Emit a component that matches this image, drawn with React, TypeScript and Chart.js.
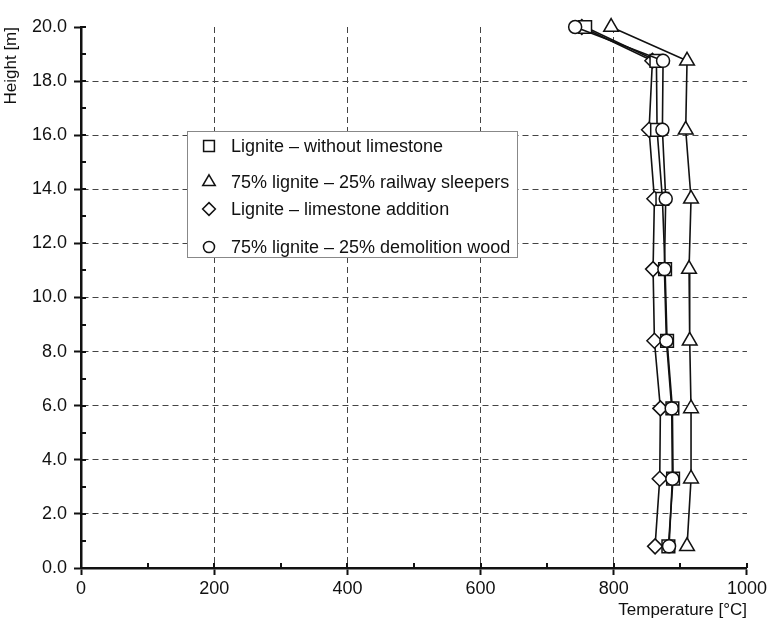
import React, { useEffect, useRef } from 'react';
import { Chart, registerables } from 'chart.js';

Chart.register(...registerables);

// ---- data ----
const heights = [20.0, 18.75, 16.2, 13.65, 11.05, 8.4, 5.9, 3.3, 0.8];
const withoutLimestone = [757, 864, 865, 873, 877, 880, 888, 889, 882];
const railwaySleepers = [796, 910, 908, 916, 913, 914, 916, 916, 910];
const limestoneAddition = [752, 858, 853, 861, 859, 861, 870, 869, 862];
const demolitionWood = [742, 874, 873, 878, 876, 879, 887, 888, 883];

const seriesLabels = [
  'Lignite \u2013 without limestone',
  '75% lignite \u2013 25% railway sleepers',
  'Lignite \u2013 limestone addition',
  '75% lignite \u2013 25% demolition wood',
];

const xMin = 0;
const xMax = 1000;
const xMajorStep = 200;
const xMinorStep = 100;
const yMin = 0;
const yMax = 20;
const yMajorStep = 2;
const yMinorStep = 1;

const FONT = "'Liberation Sans', Arial, Helvetica, sans-serif";

const toPoints = (xs: number[]) => xs.map((x, i) => ({ x, y: heights[i] }));

const styles = [
  { pointStyle: 'rect', radius: 9, order: 1 },
  { pointStyle: 'triangle', radius: 8.5, order: 3 },
  { pointStyle: 'rectRot', radius: 7.5, order: 2 },
  { pointStyle: 'circle', radius: 6.5, order: 0 },
];

const legendRowOffsets = [15, 51, 78, 116];

function drawMarker(ctx: CanvasRenderingContext2D, style: string, r: number, x: number, y: number) {
  ctx.save();
  ctx.fillStyle = '#fff';
  ctx.strokeStyle = '#111';
  ctx.lineWidth = 1.5;
  ctx.beginPath();
  if (style === 'rect') {
    const s = Math.SQRT1_2 * r;
    ctx.rect(x - s, y - s, 2 * s, 2 * s);
  } else if (style === 'triangle') {
    for (let k = 0; k < 3; k++) {
      const a = (k * 2 * Math.PI) / 3;
      const px = x + Math.sin(a) * r;
      const py = y - Math.cos(a) * r;
      if (k === 0) ctx.moveTo(px, py);
      else ctx.lineTo(px, py);
    }
    ctx.closePath();
  } else if (style === 'rectRot') {
    ctx.moveTo(x, y - r);
    ctx.lineTo(x + r, y);
    ctx.lineTo(x, y + r);
    ctx.lineTo(x - r, y);
    ctx.closePath();
  } else {
    ctx.arc(x, y, r, 0, Math.PI * 2);
  }
  ctx.fill();
  ctx.stroke();
  ctx.restore();
}

const innerTicksPlugin = {
  id: 'innerTicks',
  afterDraw(chart: any) {
    const { ctx, chartArea, scales } = chart;
    ctx.save();
    ctx.strokeStyle = '#111';
    ctx.lineWidth = 2;
    for (let v = xMin; v <= xMax; v += xMinorStep) {
      const px = Math.round(scales.x.getPixelForValue(v));
      ctx.beginPath();
      ctx.moveTo(px, chartArea.bottom);
      ctx.lineTo(px, chartArea.bottom - 5);
      ctx.stroke();
    }
    for (let v = yMin; v <= yMax; v += yMinorStep) {
      const py = Math.round(scales.y.getPixelForValue(v));
      ctx.beginPath();
      ctx.moveTo(chartArea.left, py);
      ctx.lineTo(chartArea.left + 5, py);
      ctx.stroke();
    }
    ctx.restore();
  },
};

const boxLegendPlugin = {
  id: 'boxLegend',
  afterDraw(chart: any) {
    const { ctx, chartArea } = chart;
    const left = chartArea.left + 106;
    const top = chartArea.top + 104;
    const w = 330;
    const h = 126;
    ctx.save();
    ctx.fillStyle = '#fff';
    ctx.fillRect(left, top, w, h);
    ctx.strokeStyle = '#888';
    ctx.lineWidth = 1;
    ctx.strokeRect(left + 0.5, top + 0.5, w, h);
    ctx.font = `18px ${FONT}`;
    ctx.textBaseline = 'middle';
    ctx.textAlign = 'left';
    chart.data.datasets.forEach((ds: any, i: number) => {
      const y = top + legendRowOffsets[i];
      const st = styles[i];
      drawMarker(ctx, st.pointStyle, st.radius * 0.85, left + 22, y);
      ctx.fillStyle = '#111';
      ctx.fillText(ds.label, left + 44, y + 1);
    });
    ctx.restore();
  },
};

export default function App() {
  const canvasRef = useRef<HTMLCanvasElement | null>(null);

  useEffect(() => {
    if (!canvasRef.current) return;
    const seriesValues = [withoutLimestone, railwaySleepers, limestoneAddition, demolitionWood];
    const gridColor = (isMajorInner: (v: number) => boolean) => (c: any) =>
      c.tick && isMajorInner(c.tick.value) ? '#444' : 'rgba(0,0,0,0)';
    const chart = new Chart(canvasRef.current, {
      type: 'scatter',
      data: {
        datasets: seriesValues.map((vals, i) => ({
          label: seriesLabels[i],
          data: toPoints(vals),
          showLine: true,
          borderColor: '#111',
          borderWidth: 1.6,
          backgroundColor: '#fff',
          pointStyle: styles[i].pointStyle as any,
          pointRadius: styles[i].radius,
          pointBorderWidth: 1.5,
          pointBorderColor: '#111',
          pointBackgroundColor: '#fff',
          order: styles[i].order,
          clip: false as any,
          tension: 0,
        })),
      },
      options: {
        animation: false,
        responsive: false,
        devicePixelRatio: 1,
        layout: { padding: { top: 27, right: 22, left: 0, bottom: 0 } },
        plugins: {
          legend: { display: false },
          tooltip: { enabled: false },
        },
        scales: {
          x: {
            type: 'linear',
            min: xMin,
            max: xMax,
            afterFit: (s: any) => {
              s.height = 54;
            },
            ticks: {
              stepSize: xMinorStep,
              autoSkip: false,
              maxRotation: 0,
              color: '#111',
              font: { family: FONT, size: 18 },
              padding: 3,
              callback: (v: any) => (Number(v) % xMajorStep === 0 ? String(v) : ''),
            },
            grid: {
              color: gridColor((v) => v % xMajorStep === 0 && v !== xMin && v !== xMax),
              lineWidth: 1,
              tickLength: 7,
              tickWidth: 2,
              tickColor: (c: any) => (c.tick && c.tick.value % xMajorStep === 0 ? '#111' : 'rgba(0,0,0,0)'),
            },
            border: { display: true, color: '#111', width: 2.5, dash: [6, 4] },
            title: {
              display: true,
              text: 'Temperature [\u00b0C]',
              align: 'end',
              color: '#111',
              font: { family: FONT, size: 17 },
              padding: { top: 0, bottom: 1 },
            },
          },
          y: {
            type: 'linear',
            min: yMin,
            max: yMax,
            afterFit: (s: any) => {
              s.width = 81;
            },
            ticks: {
              stepSize: yMinorStep,
              autoSkip: false,
              color: '#111',
              font: { family: FONT, size: 18 },
              padding: 7,
              callback: (v: any) => (Number(v) % yMajorStep === 0 ? Number(v).toFixed(1) : ''),
            },
            grid: {
              color: gridColor((v) => v % yMajorStep === 0 && v !== yMin && v !== yMax),
              lineWidth: 1,
              tickLength: 7,
              tickWidth: 2,
              tickColor: (c: any) => (c.tick && c.tick.value % yMajorStep === 0 ? '#111' : 'rgba(0,0,0,0)'),
            },
            border: { display: true, color: '#111', width: 2.5, dash: [6, 4] },
            title: {
              display: true,
              text: 'Height [m]',
              align: 'end',
              color: '#111',
              font: { family: FONT, size: 17 },
              padding: { top: 1, bottom: 0 },
            },
          },
        },
      },
      plugins: [innerTicksPlugin, boxLegendPlugin],
    });
    return () => chart.destroy();
  }, []);

  return (
    <div style={{ position: 'absolute', left: 0, top: 0, width: 770, height: 622, background: '#fff' }}>
      <canvas ref={canvasRef} width={770} height={622} style={{ display: 'block' }} />
    </div>
  );
}
